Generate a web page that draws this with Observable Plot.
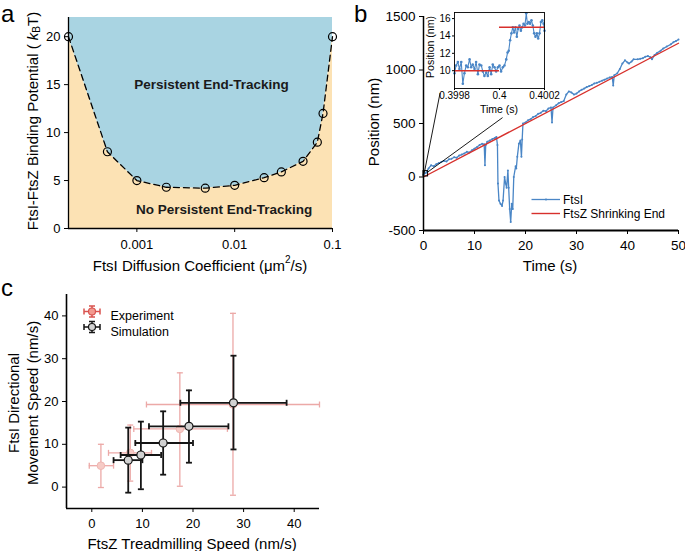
<!DOCTYPE html>
<html><head><meta charset="utf-8">
<script src="https://cdn.jsdelivr.net/npm/d3@7"></script>
<script src="https://cdn.jsdelivr.net/npm/@observablehq/plot@0.6"></script>
<style>
body{margin:0;background:#fff;}
#fig{position:relative;width:685px;height:551px;overflow:hidden;background:#fff;}
#fig svg{position:absolute;overflow:visible;}
</style></head><body><div id="fig"></div>
<script>
// ---------------- Panel a data ----------------
const diffCoef = [0.0002, 0.0005, 0.001, 0.002, 0.005, 0.01, 0.02, 0.03, 0.05, 0.07, 0.08, 0.1];
const bindPot  = [20, 8, 5, 4.3, 4.2, 4.5, 5.3, 5.9, 7.0, 9.0, 12.0, 20];
const aDomainX = [0.0002, 0.1];
const aDomainY = [0, 22];
const aTicksX = [0.001, 0.01, 0.1];
const aTicksY = [0, 5, 10, 15, 20];
const aRegionText = ["Persistent End-Tracking", "No Persistent End-Tracking"];
const aRegionX = [0.0058, 0.0078];
const aRegionY = [15, 2.0];

// ---------------- Panel b data ----------------
const timeS = [0,0.5,1,1.5,2,2.5,3,3.5,4,4.5,5,5.5,6,6.5,7,7.5,8,8.5,9,9.5,10,10.5,11,11.5,
  11.9,12.05,12.2,12.5,13,13.5,14,14.3,14.5,14.6,14.8,15.1,15.4,15.6,15.9,
  16.1,16.3,16.55,16.7,16.9,17.1,17.3,17.5,17.7,18.06,18.2,18.4,18.7,19.0,19.2,19.35,19.5,
  20,20.5,21,21.5,22,22.5,23,23.5,24,24.5,25,25.2,25.4,
  26,26.5,27,27.5,28,28.5,29,29.5,30,30.5,31,31.5,32,32.5,33,33.5,34,34.5,35,35.5,36,36.5,37,
  37.2,37.4,38,38.5,39,39.5,40,40.3,40.8,41.2,42,42.5,43,43.5,44,44.5,44.8,45.3,45.8,46.5,47,47.7,48.5,49,49.5,50];
const ftsIPos = [20,40,80,110,100,120,130,140,150,145,165,170,185,180,200,210,220,235,230,250,265,280,300,310,
  305,110,300,330,340,355,365,375,300,-60,-220,-250,-270,-220,0,
  -60,-100,60,-100,-300,-420,-250,-300,0,100,80,190,310,340,190,350,500,
  510,530,540,560,570,590,600,620,615,640,650,510,650,
  670,690,700,710,770,800,790,770,780,800,815,826,840,850,860,875,880,890,900,910,920,930,935,
  855,950,970,1010,1060,1090,1070,1060,1080,1100,1100,1105,1110,1125,1130,1120,1100,1140,1160,1180,1200,1220,1240,1260,1270,1285];
const shrinkT = [0, 50];
const shrinkPos = [0, 1250];
const bTicksX = [0, 10, 20, 30, 40, 50];
const bTicksY = [-500, 0, 500, 1000, 1500];
const legendB = ["FtsI", "FtsZ Shrinking End"];
// zoom box around the inset window and its two connector lines (data coords)
const zoomBox = {t1: 0, t2: 0.9, p1: 5, p2: 55};
const linkT1 = [0.12, 0.7], linkP1 = [30, 42], linkT2 = [3.25, 15.5], linkP2 = [785, 555];

// inset
const insetT = [0.399800,0.399807,0.399815,0.399822,0.399830,0.399837,0.399844,0.399852,0.399859,0.399867,
  0.399874,0.399881,0.399889,0.399896,0.399904,0.399911,0.399919,0.399926,0.399933,0.399941,
  0.399948,0.399956,0.399963,0.399970,0.399978,0.399985,0.399993,0.400000,0.400007,0.400015,0.400022,
  0.400030,0.400036,0.400041,0.400047,0.400053,0.400059,0.400065,0.400071,0.400077,0.400083,
  0.400089,0.400095,0.400101,0.400107,0.400113,0.400119,0.400124,0.400130,0.400136,0.400142,
  0.400148,0.400154,0.400160,0.400166,0.400172,0.400178,0.400184,0.400190,0.400196,0.400200];
const insetPos = [9.7,10.6,11.0,10.2,11.0,8.5,9.7,10.6,10.4,11.3,
  10.4,10.7,10.2,11.0,9.6,10.7,10.6,9.9,9.4,9.8,
  9.4,10.4,9.6,10.7,10.4,9.9,10.4,10.6,9.9,10.4,10.6,
  11.3,12.1,12.3,13.5,14.3,15.0,14.4,15.0,13.9,14.8,
  15.2,14.6,15.0,15.4,15.2,16.6,15.4,15.6,15.4,15.8,
  15.2,14.3,13.9,14.3,13.7,14.3,15.6,15.8,15.4,14.6];
const insetStepStart = [0.3998, 0.4];
const insetStepEnd = [0.4, 0.4002];
const insetStepPos = [10, 15];
const insetTicksX = [0.3998, 0.4, 0.4002];
const insetTicksY = [10, 12, 14, 16];

// ---------------- Panel c data ----------------
const expX   = [1.8, 7.6, 17.4, 27.9];
const expY   = [5.0, 8.0, 13.6, 19.3];
const expXLo = [-0.5, 3.3, 8.3, 10.8];
const expXHi = [4.3, 11.8, 26.8, 45.0];
const expYLo = [-0.1, 1.4, 0.2, -1.9];
const expYHi = [10.0, 14.5, 26.7, 40.6];
const simX   = [7.2, 9.7, 14.1, 19.2, 28.0];
const simY   = [6.3, 7.5, 10.3, 14.2, 19.7];
const simXLo = [4.3, 5.7, 8.6, 11.3, 17.5];
const simXHi = [10.0, 13.7, 20.0, 27.0, 38.5];
const simYLo = [-1.3, -0.5, 2.9, 5.7, 8.8];
const simYHi = [13.9, 15.3, 17.7, 22.6, 30.7];
const cTicks = [0, 10, 20, 30, 40];
const cDomain = [-5, 45];
const legendC = ["Experiment", "Simulation"];

// ---------------- styles ----------------
const FONT = '"Liberation Sans", Arial, Helvetica, sans-serif';
const BLUE_FILL = "#a9d4e2", ORANGE_FILL = "#fce2b4";
const TRACE = "#4a86c6", RED = "#d7302c";
const EXP_BAR = "#eca9a7", EXP_FILL = "#f6cbc6", EXP_STROKE = "#efb6b2";
const EXP_LEG = "#d9534f", EXP_LEG_FILL = "#f29a90";
const SIM_BAR = "#151515", SIM_FILL = "#d2d2d2";
const fig = document.getElementById("fig");
const fmt = d3.format("~g");
function place(svg, left, top) { svg.style.left = left + "px"; svg.style.top = top + "px"; fig.appendChild(svg); return svg; }
function baseStyle(size) { return {fontFamily: FONT, fontSize: size + "px", color: "#000", background: "transparent", overflow: "visible"}; }
function label(svg, x, y, parts, o = {}) {
  const t = d3.select(svg).append("text")
    .attr("transform", `translate(${x},${y})` + (o.rotate ? ` rotate(${o.rotate})` : ""))
    .attr("text-anchor", o.anchor || "middle")
    .attr("dominant-baseline", "central")
    .attr("font-family", FONT).attr("font-size", o.size || 15).attr("fill", "#000");
  if (o.weight) t.attr("font-weight", o.weight);
  if (typeof parts === "string") parts = [{t: parts}];
  parts.forEach(p => {
    const s = t.append("tspan").text(p.t);
    if (p.style) s.attr("font-style", p.style);
    if (p.dy) s.attr("dy", p.dy);
    if (p.size) s.attr("font-size", p.size);
  });
  return t;
}
const capV = {draw(ctx, size) { const r = Math.sqrt(size / Math.PI); ctx.moveTo(0, -r); ctx.lineTo(0, r); }};
const capH = {draw(ctx, size) { const r = Math.sqrt(size / Math.PI); ctx.moveTo(-r, 0); ctx.lineTo(r, 0); }};
const errGlyph = {draw(ctx) {
  ctx.moveTo(-8, 0); ctx.lineTo(8, 0);
  ctx.moveTo(-8, -3); ctx.lineTo(-8, 3); ctx.moveTo(8, -3); ctx.lineTo(8, 3);
  ctx.moveTo(0, -5.5); ctx.lineTo(0, 5.5);
  ctx.moveTo(-3, -5.5); ctx.lineTo(3, -5.5); ctx.moveTo(-3, 5.5); ctx.lineTo(3, 5.5);
}};

// ---------------- Panel a ----------------
const curve = diffCoef.map((x, i) => ({x, y: bindPot[i]}));
const svgA = Plot.plot({
  width: 340, height: 280, marginLeft: 68, marginRight: 8, marginTop: 17, marginBottom: 52,
  style: baseStyle(13),
  x: {type: "log", domain: aDomainX},
  y: {domain: aDomainY},
  marks: [
    Plot.areaY(curve, {x: "x", y1: aDomainY[0], y2: "y", fill: ORANGE_FILL}),
    Plot.areaY(curve, {x: "x", y1: "y", y2: aDomainY[1], fill: BLUE_FILL}),
    Plot.line(curve, {x: "x", y: "y", stroke: "#000", strokeWidth: 1.3, strokeDasharray: "6,4"}),
    Plot.dot(curve, {x: "x", y: "y", r: 4, stroke: "#000", strokeWidth: 1.2, fill: "none"}),
    Plot.text(aRegionText, {x: (d, i) => aRegionX[i], y: (d, i) => aRegionY[i], text: d => d, fontWeight: "bold", fontSize: 13.5, fill: "#1a1a1a"}),
    Plot.ruleX([aDomainX[0]], {stroke: "#000", strokeWidth: 1.3}),
    Plot.ruleY([aDomainY[0]], {stroke: "#000", strokeWidth: 1.3}),
    Plot.axisX({ticks: aTicksX, tickFormat: fmt, tickSize: 4, tickPadding: 7, label: null}),
    Plot.axisY({ticks: aTicksY, tickSize: 4, tickPadding: 4, label: null})
  ]
});
place(svgA, 0, 0);
label(svgA, 32, 121, [
  {t: "FtsI-FtsZ Binding Potential ( "},
  {t: "k", style: "italic"},
  {t: "B", size: 10, dy: 4},
  {t: "T)", dy: -4}
], {rotate: -90, size: 15});
label(svgA, 200, 265, [
  {t: "FtsI Diffusion Coefficient ("},
  {t: "\u03bcm"},
  {t: "2", size: 10, dy: -6},
  {t: "/s)", dy: 6}
], {size: 15});

// ---------------- Panel b ----------------
const trace = timeS.map((t, i) => ({t, p: ftsIPos[i]}));
const shrink = shrinkT.map((t, i) => ({t, p: shrinkPos[i]}));
const svgB = Plot.plot({
  width: 345, height: 275, marginLeft: 83, marginRight: 7, marginTop: 16, marginBottom: 45,
  style: baseStyle(13.5),
  x: {domain: [0, 50]},
  y: {domain: [-500, 1500]},
  marks: [
    Plot.line(trace, {x: "t", y: "p", stroke: TRACE, strokeWidth: 1.3}),
    Plot.dot(trace, {x: "t", y: "p", r: 1, fill: TRACE}),
    Plot.line(shrink, {x: "t", y: "p", stroke: RED, strokeWidth: 1.4}),
    Plot.rect([zoomBox], {x1: "t1", x2: "t2", y1: "p1", y2: "p2", stroke: "#000", strokeWidth: 1, fill: "none"}),
    Plot.link(linkT1, {x1: d => d, y1: (d, i) => linkP1[i], x2: (d, i) => linkT2[i], y2: (d, i) => linkP2[i], stroke: "#000", strokeWidth: 0.9}),
    Plot.ruleX([0], {stroke: "#000", strokeWidth: 1.5}),
    Plot.ruleY([-500], {stroke: "#000", strokeWidth: 1.8}),
    Plot.axisX({ticks: bTicksX, tickSize: 4, tickPadding: 6, label: null}),
    Plot.axisY({ticks: bTicksY, tickFormat: d => String(d), tickSize: 4, tickPadding: 4, label: null})
  ]
});
place(svgB, 340, 0);
label(svgB, 33, 122, "Position (nm)", {rotate: -90, size: 15});
label(svgB, 210, 265, "Time (s)", {size: 15});
{
  const g = d3.select(svgB).append("g");
  g.append("line").attr("x1", 191.5).attr("x2", 220).attr("y1", 199.5).attr("y2", 199.5).attr("stroke", TRACE).attr("stroke-width", 1.3);
  g.append("circle").attr("cx", 206).attr("cy", 199.5).attr("r", 1.1).attr("fill", TRACE);
  g.append("line").attr("x1", 191.5).attr("x2", 220).attr("y1", 213.5).attr("y2", 213.5).attr("stroke", RED).attr("stroke-width", 1.4);
}
label(svgB, 223, 199.5, legendB[0], {anchor: "start", size: 12});
label(svgB, 223, 213.5, legendB[1], {anchor: "start", size: 12});

// ---------------- Inset ----------------
const inset = insetT.map((t, i) => ({t, p: insetPos[i]}));
const svgI = Plot.plot({
  width: 130, height: 115, marginLeft: 34, marginRight: 6, marginTop: 12, marginBottom: 27,
  style: baseStyle(10),
  x: {domain: [0.3998, 0.4002]},
  y: {domain: [7.95, 16.7]},
  marks: [
    Plot.frame({fill: "#fff", stroke: "none"}),
    Plot.line(inset, {x: "t", y: "p", stroke: TRACE, strokeWidth: 1.1}),
    Plot.dot(inset, {x: "t", y: "p", r: 1.3, fill: TRACE}),
    Plot.ruleY(insetStepPos, {y: d => d, x1: (d, i) => insetStepStart[i], x2: (d, i) => insetStepEnd[i], stroke: RED, strokeWidth: 1.6}),
    Plot.frame({stroke: "#000", strokeWidth: 0.9, fill: "none"}),
    Plot.axisX({ticks: insetTicksX, tickFormat: fmt, tickSize: 2, tickPadding: 1, label: null}),
    Plot.axisY({ticks: insetTicksY, tickSize: 2, tickPadding: 2, label: null})
  ]
});
place(svgI, 420, 0);
label(svgI, 10, 47, "Position (nm)", {rotate: -90, size: 10.5});
label(svgI, 79, 109, "Time (s)", {size: 10.5});

// ---------------- Panel c ----------------
const ei = expX.map((_, i) => i), si = simX.map((_, i) => i);
function errorMarks(idx, X, Y, XL, XH, YL, YH, color, w) {
  return [
    Plot.ruleY(idx, {y: i => Y[i], x1: i => XL[i], x2: i => XH[i], stroke: color, strokeWidth: w}),
    Plot.ruleX(idx, {x: i => X[i], y1: i => YL[i], y2: i => YH[i], stroke: color, strokeWidth: w}),
    Plot.dot(idx, {x: i => XL[i], y: i => Y[i], symbol: capV, r: 3, stroke: color, strokeWidth: w, fill: "none"}),
    Plot.dot(idx, {x: i => XH[i], y: i => Y[i], symbol: capV, r: 3, stroke: color, strokeWidth: w, fill: "none"}),
    Plot.dot(idx, {x: i => X[i], y: i => YL[i], symbol: capH, r: 3, stroke: color, strokeWidth: w, fill: "none"}),
    Plot.dot(idx, {x: i => X[i], y: i => YH[i], symbol: capH, r: 3, stroke: color, strokeWidth: w, fill: "none"})
  ];
}
const svgC = Plot.plot({
  width: 340, height: 276, marginLeft: 66, marginRight: 21, marginTop: 19, marginBottom: 43,
  style: baseStyle(13),
  x: {domain: cDomain},
  y: {domain: cDomain},
  marks: [
    ...errorMarks(ei, expX, expY, expXLo, expXHi, expYLo, expYHi, EXP_BAR, 1.3),
    Plot.dot(ei, {x: i => expX[i], y: i => expY[i], r: 3.8, fill: EXP_FILL, stroke: EXP_STROKE, strokeWidth: 1}),
    ...errorMarks(si, simX, simY, simXLo, simXHi, simYLo, simYHi, SIM_BAR, 1.8),
    Plot.dot(si, {x: i => simX[i], y: i => simY[i], r: 4, fill: SIM_FILL, stroke: SIM_BAR, strokeWidth: 1.2}),
    // legend
    Plot.dot([legendC[0]], {frameAnchor: "top-left", dx: 25.5, dy: 17, symbol: errGlyph, r: 8, stroke: EXP_LEG, strokeWidth: 1.5, fill: "none"}),
    Plot.dot([legendC[0]], {frameAnchor: "top-left", dx: 25.5, dy: 17, r: 3.5, fill: EXP_LEG_FILL, stroke: EXP_LEG, strokeWidth: 1.2}),
    Plot.dot([legendC[1]], {frameAnchor: "top-left", dx: 25.5, dy: 32.5, symbol: errGlyph, r: 8, stroke: SIM_BAR, strokeWidth: 1.5, fill: "none"}),
    Plot.dot([legendC[1]], {frameAnchor: "top-left", dx: 25.5, dy: 32.5, r: 3.5, fill: SIM_FILL, stroke: SIM_BAR, strokeWidth: 1.2}),
    Plot.text([legendC[0]], {frameAnchor: "top-left", dx: 44, dy: 17, text: d => d, textAnchor: "start", fontSize: 12.5}),
    Plot.text([legendC[1]], {frameAnchor: "top-left", dx: 44, dy: 32.5, text: d => d, textAnchor: "start", fontSize: 12.5}),
    Plot.ruleX([cDomain[0]], {stroke: "#000", strokeWidth: 1.6}),
    Plot.ruleY([cDomain[0]], {stroke: "#000", strokeWidth: 1.6}),
    Plot.axisX({ticks: cTicks, tickSize: 4, tickPadding: 6, label: null}),
    Plot.axisY({ticks: cTicks, tickSize: 4, tickPadding: 4, label: null})
  ]
});
place(svgC, 0, 275);
label(svgC, 192, 268, "FtsZ Treadmilling Speed (nm/s)", {size: 15});
label(svgC, 13, 128, "FtsI Directional", {rotate: -90, size: 15});
label(svgC, 31.5, 128, "Movement Speed (nm/s)", {rotate: -90, size: 15});

// ---------------- panel letters ----------------
const over = d3.create("svg").attr("width", 685).attr("height", 551).style("pointer-events", "none").node();
place(over, 0, 0);
[["a", 1, 22], ["b", 354, 22], ["c", 1, 296]].forEach(([s, x, y]) =>
  d3.select(over).append("text").attr("x", x).attr("y", y).attr("font-family", FONT).attr("font-size", 24).attr("fill", "#000").text(s));
</script>
</body></html>
